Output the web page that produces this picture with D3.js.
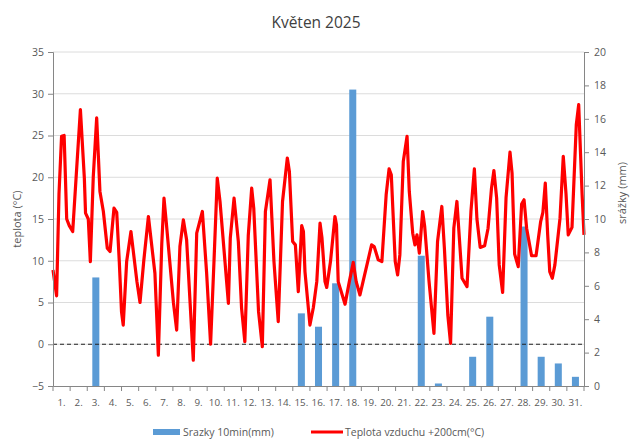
<!DOCTYPE html>
<html>
<head>
<meta charset="utf-8">
<script src="https://cdn.jsdelivr.net/npm/d3@7"></script>
<style>
  body { margin: 0; background: #fff; }
  text { font-family: "Open Sans", "Liberation Sans", sans-serif; fill: #595959; }
</style>
</head>
<body>
<div class="chart"></div>
<script>
// popisky osy x (dny v mesici)
var dayLabels = ["1.","2.","3.","4.","5.","6.","7.","8.","9.","10.","11.","12.","13.","14.","15.","16.",
                 "17.","18.","19.","20.","21.","22.","23.","24.","25.","26.","27.","28.","29.","30.","31."];

// srazky - den a uhrn (mm)
var rainDays = [3, 15, 16, 17, 18, 22, 23, 25, 26, 28, 29, 30, 31];
var rainMm   = [6.5, 4.35, 3.55, 6.15, 17.75, 7.8, 0.15, 1.75, 4.15, 9.55, 1.75, 1.35, 0.55];

// teplota - cas (dny od 1.5. 0:00) a hodnota (°C)
var tempTime = [0.0,0.21,0.35,0.5,0.65,0.8,0.95,1.15,1.35,1.6,1.83,1.9,2.06,2.18,2.35,2.55,2.74,2.94,3.17,3.33,
                3.56,3.72,3.87,4.0,4.1,4.3,4.55,4.9,5.08,5.3,5.57,5.95,6.15,6.35,6.48,6.6,7.03,7.22,7.41,7.61,
                7.8,8.19,8.39,8.72,8.97,9.2,9.4,9.59,9.75,10.04,10.24,10.35,10.57,10.82,11.01,11.2,11.4,11.6,11.72,12.0,
                12.22,12.4,12.67,12.9,13.15,13.4,13.68,13.8,13.99,14.15,14.32,14.52,14.62,14.71,15.0,15.2,15.4,15.59,15.7,15.88,
                15.98,16.2,16.46,16.55,16.65,17.05,17.3,17.53,17.7,17.92,18.1,18.6,18.75,18.99,19.2,19.45,19.62,19.75,19.98,20.12,
                20.25,20.45,20.67,20.8,21.0,21.13,21.25,21.39,21.58,21.7,21.95,22.24,22.45,22.7,22.85,23.05,23.21,23.4,23.58,23.75,
                23.88,24.17,24.4,24.6,24.75,24.94,25.2,25.4,25.6,25.74,25.9,26.05,26.25,26.45,26.68,26.8,26.95,27.16,27.36,27.5,
                27.65,27.94,28.2,28.47,28.6,28.74,28.88,29.0,29.15,29.3,29.6,29.79,29.95,30.08,30.3,30.55,30.69,30.8,30.89,31.0];
var tempValue = [8.9,5.8,18,24.9,25,15,14.2,13.5,20,28.1,19.9,15.7,15,9.9,20,27.1,18.3,15.9,11.5,11.1,
                 16.3,15.8,9.9,3.9,2.3,9.9,13.5,7.5,5.0,10,15.3,8.5,-1.3,12,17.5,14.9,5,1.7,11.7,14.9,
                 12.5,-1.9,13.3,15.9,8.5,0,10,19.9,17.1,9.9,4.9,12.7,17.5,12.3,4.3,0.3,13,18.7,16.3,3.9,
                 -0.3,15.9,19.7,9.9,2.7,17.1,22.3,20.7,12.3,11.9,6.3,14.2,13.5,8.7,2.3,4.4,7.5,14.5,12.8,7.5,
                 6.8,9.9,15.3,14.3,7.5,4.8,7.5,9.8,7.5,5.9,7.5,11.9,11.7,10.1,9.9,17.9,21,20.3,9.9,8.3,
                 10.7,21.9,24.9,18.3,13.3,11.9,13.1,10.9,15.9,14.1,7.6,1.3,12.3,16.5,11.5,3.5,0.1,13.9,17.1,11.9,
                 7.9,6.9,15.9,21,15,11.6,11.8,13.9,18.7,20.8,17.5,9.5,6.2,17.6,23,20.5,10.8,9.3,16.8,17.3,
                 13.9,10.6,10.6,14.7,15.8,19.3,13.1,8.7,7.9,9.5,15.1,22.5,18,13.1,14,26.3,28.7,22.7,17.9,13.1];

var tempTicks = [-5, 0, 5, 10, 15, 20, 25, 30, 35];
var rainTicks = [0, 2, 4, 6, 8, 10, 12, 14, 16, 18, 20];

var width = 632, height = 439;
var plotLeft = 53, plotRight = 584, plotTop = 52, plotBottom = 386;

var barColor = "#5b9bd5";
var lineColor = "#ff0000";
var axisColor = "#868686";

var svg = d3.select("div.chart")
            .append("svg")
            .attr("width", width)
            .attr("height", height);

// meritka
var xTime = d3.scaleLinear().domain([0, 31]).range([plotLeft, plotRight]);
var xDay = d3.scaleBand().domain(d3.range(1, 32)).range([plotLeft, plotRight]).paddingInner(0.59).paddingOuter(0.295);
var xCat = d3.scaleBand().domain(dayLabels).range([plotLeft, plotRight]);
var yTemp = d3.scaleLinear().domain([-5, 35]).range([plotBottom, plotTop]);
var yRain = d3.scaleLinear().domain([0, 20]).range([plotBottom, plotTop]);

// mrizka
svg.selectAll("line.grid")
   .data(tempTicks.slice(1))
   .enter()
   .append("line")
   .attr("class", "grid")
   .attr("x1", plotLeft)
   .attr("x2", plotRight)
   .attr("y1", function(d) { return yTemp(d); })
   .attr("y2", function(d) { return yTemp(d); })
   .style("stroke", "#dcdcdc")
   .style("stroke-width", 1);

// sloupce srazek
var rainData = rainDays.map(function(d, i) { return {day: d, mm: rainMm[i]}; });
svg.selectAll("rect.rain")
   .data(rainData)
   .enter()
   .append("rect")
   .attr("class", "rain")
   .attr("x", function(d) { return xDay(d.day); })
   .attr("width", xDay.bandwidth())
   .attr("y", function(d) { return yRain(d.mm); })
   .attr("height", function(d) { return yRain(0) - yRain(d.mm); })
   .attr("fill", barColor);

// nula - prerusovana cara
svg.append("line")
   .attr("x1", plotLeft)
   .attr("x2", plotRight)
   .attr("y1", yTemp(0))
   .attr("y2", yTemp(0))
   .style("stroke", "#222")
   .style("stroke-width", 1)
   .style("stroke-dasharray", "4,3");

// teplota
var tempData = tempTime.map(function(d, i) { return {t: d, v: tempValue[i]}; });
var line = d3.line()
             .x(function(d) { return xTime(d.t); })
             .y(function(d) { return yTemp(d.v); });

svg.append("path")
   .datum(tempData)
   .attr("d", line)
   .attr("fill", "none")
   .style("stroke", lineColor)
   .style("stroke-width", 3.2)
   .style("stroke-linejoin", "round");

// osy
var leftAxis = svg.append("g")
   .attr("transform", "translate(" + plotLeft + ",0)")
   .call(d3.axisLeft(yTemp).tickValues(tempTicks).tickSize(5).tickPadding(4));

var rightAxis = svg.append("g")
   .attr("transform", "translate(" + plotRight + ",0)")
   .call(d3.axisRight(yRain).tickValues(rainTicks).tickSize(5).tickPadding(5));

var bottomAxis = svg.append("g")
   .attr("transform", "translate(0," + plotBottom + ")")
   .call(d3.axisBottom(xCat).tickSize(0).tickPadding(13));

// znacky na hranicich dnu
svg.selectAll("line.xtick")
   .data(d3.range(0, 32))
   .enter()
   .append("line")
   .attr("class", "xtick")
   .attr("x1", function(d) { return xTime(d); })
   .attr("x2", function(d) { return xTime(d); })
   .attr("y1", plotBottom)
   .attr("y2", plotBottom + 5)
   .style("stroke", axisColor);

svg.selectAll("g .domain").style("stroke", axisColor);
svg.selectAll("g .tick line").style("stroke", axisColor);
svg.selectAll("g .tick text")
   .style("font-family", "'Open Sans', sans-serif")
   .style("font-size", "10.5px")
   .style("fill", "#595959");
bottomAxis.selectAll(".tick text").style("font-size", "9.8px");

// titulky
svg.append("text")
   .attr("x", 316)
   .attr("y", 28)
   .attr("text-anchor", "middle")
   .style("font-size", "15.5px")
   .style("fill", "#404040")
   .text("Květen 2025");

svg.append("text")
   .attr("transform", "translate(21,219) rotate(-90)")
   .attr("text-anchor", "middle")
   .style("font-size", "11px")
   .text("teplota (°C)");

svg.append("text")
   .attr("transform", "translate(626,193) rotate(-90)")
   .attr("text-anchor", "middle")
   .style("font-size", "11px")
   .text("srážky (mm)");

// legenda
svg.append("rect")
   .attr("x", 153)
   .attr("y", 429)
   .attr("width", 27)
   .attr("height", 6)
   .attr("fill", barColor);

svg.append("text")
   .attr("x", 183)
   .attr("y", 436)
   .style("font-size", "10.5px")
   .text("Srazky 10min(mm)");

svg.append("line")
   .attr("x1", 311)
   .attr("x2", 343)
   .attr("y1", 432)
   .attr("y2", 432)
   .style("stroke", lineColor)
   .style("stroke-width", 3);

svg.append("text")
   .attr("x", 345)
   .attr("y", 436)
   .style("font-size", "10.5px")
   .text("Teplota vzduchu +200cm(°C)");
</script>
</body>
</html>
